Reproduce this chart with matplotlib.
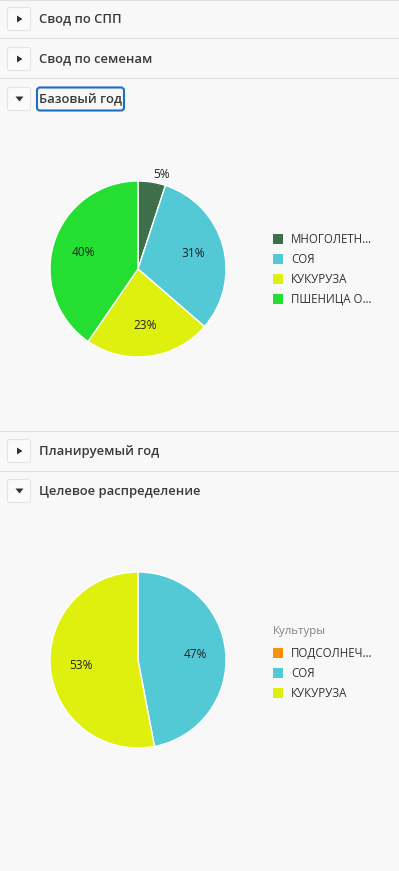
import numpy as np
import matplotlib.pyplot as plt
from matplotlib.patches import FancyBboxPatch, Polygon, Rectangle

# ---- data ----
sections = ['Свод по СПП', 'Свод по семенам', 'Базовый год', 'Планируемый год', 'Целевое распределение']
expanded = [False, False, True, False, True]

base_labels = ['МНОГОЛЕТН…', 'СОЯ', 'КУКУРУЗА', 'ПШЕНИЦА О…']
base_values = [5, 31, 23, 40]
base_colors = ['#3d6f4b', '#53c9d6', '#dff00f', '#25de32']

target_title = 'Культуры'
target_labels = ['ПОДСОЛНЕЧ…', 'СОЯ', 'КУКУРУЗА']
target_values = [0, 47, 53]
target_colors = ['#f7900a', '#53c9d6', '#dff00f']

W, H = 399, 871
BG = '#f8f8f8'
FONT = ['Open Sans', 'DejaVu Sans']
plt.rcParams['font.family'] = FONT

fig = plt.figure(figsize=(W / 100, H / 100), dpi=100, facecolor=BG)

# pixel-space background axes
bg = fig.add_axes([0, 0, 1, 1])
bg.set_xlim(0, W)
bg.set_ylim(H, 0)
bg.axis('off')
bg.set_facecolor(BG)

header_y = [19, 59, 99, 451, 491]
sep_y = [0.5, 38.5, 78.5, 430.5, 470.5]
for y in sep_y:
	bg.plot([0, W], [y, y], color='#e1e1e1', lw=0.9)

for name, ex, y in zip(sections, expanded, header_y):
	box = FancyBboxPatch((7.5, y - 11.5), 23, 23, boxstyle='round,pad=0,rounding_size=2',
						 fc='#fbfbfb', ec='#e4e4e4', lw=0.8)
	bg.add_patch(box)
	if ex:
		tri = Polygon([[15.5, y - 2.5], [23.5, y - 2.5], [19.5, y + 2.5]], closed=True, fc='#333333', ec='none')
	else:
		tri = Polygon([[17, y - 3.5], [17, y + 3.5], [22.5, y]], closed=True, fc='#333333', ec='none')
	bg.add_patch(tri)
	bg.text(39, y, name, fontsize=9.4, fontweight='semibold', color='#3a3a3a', va='center', ha='left')

# focus ring around "Базовый год"
bg.add_patch(FancyBboxPatch((37, 87.5), 87, 23, boxstyle='round,pad=0,rounding_size=3',
							fc='none', ec='#1a6fc4', lw=1.5))


def px_rect(x, y, w, h):
	return [x / W, 1 - (y + h) / H, w / W, h / H]


def draw_pie(cx, cy, r, values, colors):
	ax = fig.add_axes(px_rect(cx - r, cy - r, 2 * r, 2 * r))
	ax.set_facecolor('none')
	vals = [v for v in values if v > 0]
	cols = [c for v, c in zip(values, colors) if v > 0]
	wedges, _, autos = ax.pie(vals, colors=cols, startangle=90, counterclock=False,
							  autopct='%d%%', pctdistance=0.65, radius=1,
							  wedgeprops=dict(edgecolor='white', linewidth=1.0),
							  textprops=dict(fontsize=8.6, color='#222222'))
	tot = float(sum(vals))
	for w, t, v in zip(wedges, autos, vals):
		t.set_text('%d%%' % round(100 * v / tot))
		if v / tot < 0.08:
			ang = np.deg2rad((w.theta1 + w.theta2) / 2)
			t.set_position((1.1 * np.cos(ang), 1.09 * np.sin(ang)))
			t.set_ha('left')
	ax.set_xlim(-1, 1)
	ax.set_ylim(-1, 1)
	ax.set_aspect('equal')
	ax.axis('off')


def draw_legend(x, y0, labels, colors, title=None):
	y = y0
	if title:
		bg.text(x, y - 22, title, fontsize=8.2, color='#808080', va='center', ha='left')
	for lab, col in zip(labels, colors):
		bg.add_patch(Rectangle((x, y - 5), 10, 10, fc=col, ec='none'))
		bg.text(x + 18, y, lab, fontsize=8.3, color='#333333', va='center', ha='left')
		y += 20


draw_pie(138, 269, 88, base_values, base_colors)
draw_legend(273, 239, base_labels, base_colors)

draw_pie(138, 660, 88, target_values, target_colors)
draw_legend(273, 653, target_labels, target_colors, title=target_title)

fig.savefig('out.png', dpi=100, facecolor=BG)
